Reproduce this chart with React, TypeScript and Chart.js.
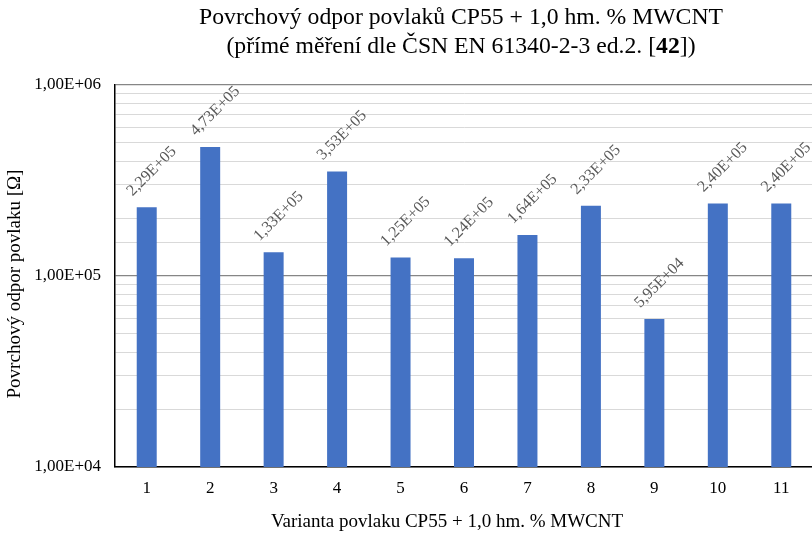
import React, { useEffect, useRef } from "react";
import { Chart, registerables } from "chart.js";

Chart.register(...registerables);

const categories = ["1", "2", "3", "4", "5", "6", "7", "8", "9", "10", "11"];
const resistance = [2.29e5, 4.73e5, 1.33e5, 3.53e5, 1.25e5, 1.24e5, 1.64e5, 2.33e5, 5.95e4, 2.4e5, 2.4e5];
const yMin = 1e4;
const yMax = 1e6;
const titleLine1 = "Povrchový odpor povlaků CP55 + 1,0 hm. % MWCNT";
const titleLine2Parts = [
  { text: "(přímé měření dle ČSN EN 61340-2-3 ed.2. [", bold: false },
  { text: "42", bold: true },
  { text: "])", bold: false },
];
const yTitle = "Povrchový odpor povlaku [Ω]";
const xTitle = "Varianta povlaku CP55 + 1,0 hm. % MWCNT";

const SERIF = "'Liberation Serif', 'Times New Roman', serif";

function fmtExp(v: number): string {
  const e = Math.floor(Math.log10(v) + 1e-9);
  const m = v / Math.pow(10, e);
  const sign = e >= 0 ? "+" : "-";
  const ee = String(Math.abs(e)).padStart(2, "0");
  return m.toFixed(2).replace(".", ",") + "E" + sign + ee;
}

function isPow10(v: number): boolean {
  const l = Math.log10(v);
  return Math.abs(l - Math.round(l)) < 1e-9;
}

const textPlugin = {
  id: "textPlugin",
  afterDatasetsDraw(chart: any) {
    const ctx = chart.ctx;
    const meta = chart.getDatasetMeta(0);
    ctx.save();
    ctx.fillStyle = "#595959";
    ctx.font = `16px ${SERIF}`;
    ctx.textAlign = "center";
    ctx.textBaseline = "middle";
    meta.data.forEach((bar: any, i: number) => {
      const label = fmtExp(resistance[i]);
      ctx.save();
      ctx.translate(bar.x + 5, bar.y - 36);
      ctx.rotate(-Math.PI / 4);
      ctx.fillText(label, 0, 0);
      ctx.restore();
    });
    ctx.restore();
  },
  afterDraw(chart: any) {
    const ctx = chart.ctx;
    const area = chart.chartArea;
    ctx.save();
    ctx.fillStyle = "#000";
    ctx.textBaseline = "middle";
    // Title
    const cx = 461;
    const tf = 23.7;
    ctx.font = `${tf}px ${SERIF}`;
    ctx.textAlign = "center";
    ctx.fillText(titleLine1, cx, 18);
    let total = 0;
    const widths = titleLine2Parts.map((p) => {
      ctx.font = `${p.bold ? "bold " : ""}${tf}px ${SERIF}`;
      const w = ctx.measureText(p.text).width;
      total += w;
      return w;
    });
    let x = cx - total / 2;
    ctx.textAlign = "left";
    titleLine2Parts.forEach((p, i) => {
      ctx.font = `${p.bold ? "bold " : ""}${tf}px ${SERIF}`;
      ctx.fillText(p.text, x, 47);
      x += widths[i];
    });
    // X title
    ctx.font = `19px ${SERIF}`;
    ctx.textAlign = "center";
    ctx.fillText(xTitle, 447, 522);
    // Y title
    ctx.save();
    ctx.translate(15, (area.top + area.bottom) / 2 + 8);
    ctx.rotate(-Math.PI / 2);
    ctx.fillText(yTitle, 0, 0);
    ctx.restore();
    ctx.restore();
  },
};

export default function App() {
  const ref = useRef<HTMLCanvasElement | null>(null);
  useEffect(() => {
    if (!ref.current) return;
    const chart = new Chart(ref.current, {
      type: "bar",
      data: {
        labels: categories,
        datasets: [
          {
            data: resistance,
            backgroundColor: "#4472C4",
            borderWidth: 0,
            barPercentage: 0.63,
            categoryPercentage: 0.5,
          },
        ],
      },
      options: {
        responsive: false,
        animation: false,
        layout: { padding: { top: 85, right: 3, left: 0, bottom: 0 } },
        plugins: {
          legend: { display: false },
          title: { display: false },
          tooltip: { enabled: false },
        },
        scales: {
          x: {
            afterFit: (s: any) => {
              s.height = 69;
            },
            grid: { display: false, drawTicks: false },
            border: { display: true, color: "#000", width: 1.5 },
            ticks: {
              color: "#000",
              font: { family: SERIF, size: 17 },
              padding: 11,
            },
          },
          y: {
            type: "logarithmic",
            min: yMin,
            max: yMax,
            afterFit: (s: any) => {
              s.width = 115;
            },
            border: { display: true, color: "#000", width: 1.5 },
            grid: {
              drawTicks: false,
              color: (c: any) => (c.tick && isPow10(c.tick.value) ? "#868686" : "#d9d9d9"),
              lineWidth: (c: any) => (c.tick && isPow10(c.tick.value) ? 1.2 : 1),
            },
            ticks: {
              color: "#000",
              font: { family: SERIF, size: 17 },
              padding: 14,
              autoSkip: false,
              callback: (v: any) => (isPow10(Number(v)) ? fmtExp(Number(v)) : ""),
            },
          },
        },
      },
      plugins: [textPlugin],
    });
    return () => chart.destroy();
  }, []);
  return (
    <div style={{ position: "fixed", left: 0, top: 0, width: 812, height: 536, overflow: "hidden", background: "#fff" }}>
      <canvas ref={ref} width={816} height={536} style={{ display: "block" }} />
    </div>
  );
}
